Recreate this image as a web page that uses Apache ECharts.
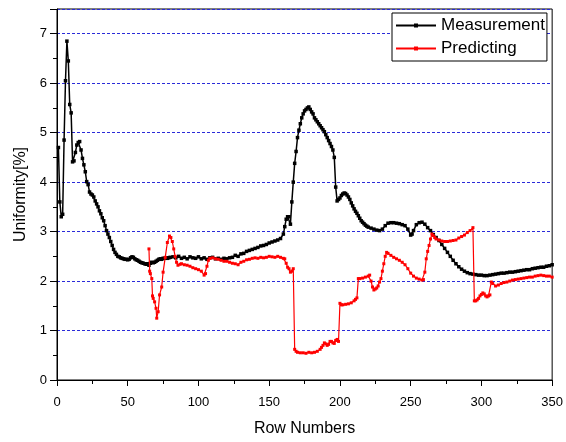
<!DOCTYPE html>
<html>
<head>
<meta charset="utf-8">
<script src="https://cdn.jsdelivr.net/npm/echarts@6/dist/echarts.min.js"></script>
<style>
  html, body { margin: 0; padding: 0; background: #fff; }
  #chart { width: 566px; height: 442px; }
</style>
</head>
<body>
<div id="chart"></div>
<script>
// 数据: [row, uniformity]
var seriesNames = ['Measurement', 'Predicting'];
var xTicks = [0, 50, 100, 150, 200, 250, 300, 350];
var yTicks = [0, 1, 2, 3, 4, 5, 6, 7];

var measurement = [
  [1,4.7],[2,3.6],[3,3.3],[4,3.35],[5,4.85],[6,6.05],[7,6.85],[8,6.45],[9,5.57],[10,5.4],
  [11,4.41],[12,4.43],[13,4.6],[14,4.75],[15,4.8],[16,4.82],[17,4.65],[18,4.48],[19,4.35],[20,4.21],
  [21,4.01],[22,3.95],[23,3.8],[24,3.76],[25,3.74],[26,3.7],[27,3.62],[28,3.56],[29,3.5],[30,3.42],
  [31,3.36],[32,3.28],[33,3.22],[34,3.12],[35,3.02],[36,2.95],[37,2.88],[38,2.8],[39,2.72],[40,2.64],
  [41,2.58],[42,2.54],[43,2.5],[44,2.49],[45,2.47],[46,2.46],[47,2.45],[48,2.44],[49,2.44],[50,2.43],
  [51,2.44],[52,2.47],[53,2.49],[54,2.48],[55,2.45],[56,2.43],[57,2.42],[58,2.4],[59,2.38],[60,2.37],
  [61,2.36],[62,2.35],[63,2.34],[64,2.35],[65,2.32],[66,2.36],[67,2.38],[68,2.37],[69,2.38],[70,2.4],
  [71,2.42],[72,2.44],[73,2.45],[74,2.44],[75,2.46],[76,2.46],[77,2.47],[78,2.46],[79,2.47],[80,2.48],
  [82,2.49],[84,2.47],[86,2.5],[88,2.46],[90,2.48],[92,2.45],[94,2.49],[96,2.47],[98,2.46],[100,2.49],
  [102,2.45],[104,2.47],[106,2.44],[108,2.47],[110,2.48],[112,2.45],[114,2.46],[116,2.44],[118,2.46],[120,2.45],
  [122,2.47],[124,2.48],[126,2.52],[128,2.5],[130,2.55],[132,2.56],[134,2.6],[136,2.62],[138,2.64],[140,2.66],
  [142,2.68],[144,2.71],[146,2.72],[148,2.74],[150,2.77],[152,2.79],[154,2.81],[156,2.83],[158,2.86],[160,2.95],
  [161,3.1],[162,3.25],[163,3.3],[164,3.3],[165,3.15],[166,3.6],[167,4.0],[168,4.38],[169,4.62],[170,4.9],
  [171,5.05],[172,5.18],[173,5.3],[174,5.38],[175,5.44],[176,5.47],[177,5.5],[178,5.52],[179,5.47],[180,5.42],
  [181,5.38],[182,5.3],[183,5.26],[184,5.22],[185,5.18],[186,5.14],[187,5.1],[188,5.06],[189,5.02],[190,4.96],
  [191,4.9],[192,4.84],[193,4.78],[194,4.72],[195,4.65],[196,4.5],[197,3.9],[198,3.62],[199,3.65],[200,3.68],
  [201,3.73],[202,3.76],[203,3.78],[204,3.77],[205,3.74],[206,3.7],[207,3.65],[208,3.58],[209,3.52],[210,3.46],
  [211,3.41],[212,3.37],[213,3.32],[214,3.27],[215,3.22],[216,3.19],[217,3.16],[218,3.13],[219,3.11],[220,3.09],
  [222,3.07],[224,3.05],[226,3.03],[228,3.02],[230,3.05],[232,3.12],[234,3.17],[236,3.18],[238,3.18],[240,3.17],
  [242,3.16],[244,3.14],[246,3.12],[248,3.05],[250,2.93],[251,2.95],[252,3.02],[254,3.14],[256,3.18],[258,3.19],
  [260,3.15],[262,3.08],[264,3.02],[266,2.94],[268,2.88],[270,2.82],[272,2.74],[274,2.66],[276,2.58],[278,2.5],
  [280,2.42],[282,2.35],[284,2.29],[286,2.24],[288,2.2],[290,2.17],[292,2.15],[294,2.14],[296,2.13],[298,2.12],
  [300,2.12],[302,2.11],[304,2.11],[306,2.12],[308,2.13],[310,2.14],[312,2.15],[314,2.16],[316,2.16],[318,2.17],
  [320,2.18],[322,2.18],[324,2.19],[326,2.2],[328,2.21],[330,2.22],[332,2.23],[334,2.23],[336,2.25],[338,2.26],
  [340,2.27],[342,2.28],[344,2.28],[346,2.3],[348,2.31],[350,2.33]
];

var predicting = [
  [65,2.65],[65.5,2.2],[66,2.15],[67,2.05],[67.5,1.7],[68,1.65],[69,1.58],[70,1.45],[70.5,1.25],[71.5,1.38],
  [72.5,1.72],[74,1.88],[75,2.18],[76.5,2.48],[78,2.78],[79.5,2.91],[80.5,2.88],[81.5,2.8],[82.5,2.65],[83.5,2.5],
  [84.5,2.38],[85.5,2.32],[87,2.34],[88,2.35],[90,2.33],[92,2.32],[94,2.3],[96,2.27],[98,2.25],[100,2.23],
  [102,2.2],[104,2.12],[105,2.15],[106,2.3],[107,2.42],[108,2.46],[110,2.47],[112,2.45],[114,2.44],[116,2.42],
  [118,2.4],[120,2.4],[122,2.38],[124,2.36],[126,2.35],[128,2.33],[130,2.38],[132,2.4],[134,2.43],[136,2.44],
  [138,2.46],[140,2.47],[142,2.46],[144,2.48],[146,2.47],[148,2.48],[150,2.5],[152,2.49],[154,2.48],[156,2.5],
  [158,2.48],[160,2.46],[161,2.45],[162,2.36],[163,2.28],[164,2.25],[165,2.18],[166,2.2],[167,2.25],[168,0.62],
  [169,0.58],[170,0.56],[172,0.55],[174,0.55],[176,0.54],[178,0.56],[180,0.55],[182,0.56],[184,0.58],[186,0.62],
  [187,0.66],[188,0.7],[189,0.75],[190,0.73],[191,0.7],[192,0.72],[193,0.78],[194,0.78],[195,0.75],[196,0.74],
  [197,0.8],[198,0.82],[199,0.78],[200,1.55],[201,1.52],[202,1.52],[204,1.53],[206,1.54],[208,1.56],[210,1.6],
  [211,1.63],[212,1.66],[213,2.05],[214,2.05],[216,2.06],[218,2.08],[220,2.1],[221,2.12],[222,2.0],[223,1.88],
  [224,1.82],[225,1.84],[226,1.86],[227,1.9],[228,1.98],[229,2.05],[230,2.2],[231,2.35],[232,2.5],[233,2.58],
  [234,2.56],[236,2.52],[238,2.48],[240,2.45],[242,2.42],[244,2.38],[246,2.33],[248,2.25],[250,2.16],[252,2.1],
  [254,2.06],[256,2.04],[258,2.02],[259,2.03],[260,2.18],[261,2.45],[262,2.6],[263,2.72],[264,2.85],[265,2.95],
  [266,2.92],[267,2.88],[268,2.85],[270,2.83],[272,2.81],[274,2.8],[276,2.8],[278,2.81],[280,2.82],[282,2.83],
  [284,2.87],[286,2.9],[288,2.93],[290,2.98],[292,3.02],[294,3.08],[295,1.6],[296,1.6],[297,1.62],[298,1.65],
  [299,1.7],[300,1.73],[301,1.76],[302,1.74],[303,1.7],[304,1.68],[305,1.7],[306,1.72],[307,1.98],[308,1.95],
  [310,1.9],[312,1.92],[314,1.95],[316,1.97],[318,1.98],[320,2.0],[322,2.02],[324,2.03],[326,2.04],[328,2.05],
  [330,2.06],[332,2.07],[334,2.08],[336,2.08],[338,2.1],[340,2.11],[342,2.12],[344,2.11],[346,2.1],[348,2.1],
  [350,2.08]
];

var chart = echarts.init(document.getElementById('chart'));
var option = {
  animation: false,
  textStyle: { fontFamily: 'Liberation Sans, Arial, sans-serif' },
  grid: {
    show: true,
    left: 57,
    right: 13,
    top: 9,
    bottom: 57,
    borderColor: '#000',
    borderWidth: 1
  },
  legend: {
    orient: 'vertical',
    left: 392,
    top: 13,
    padding: [4, 2, 4, 3],
    itemWidth: 40,
    itemHeight: 5,
    itemGap: 6,
    borderColor: '#000',
    borderWidth: 1,
    backgroundColor: '#fff',
    textStyle: { fontSize: 17, lineHeight: 16, color: '#000' },
    data: seriesNames
  },
  xAxis: {
    type: 'value',
    min: xTicks[0],
    max: xTicks[xTicks.length - 1],
    interval: 50,
    name: 'Row Numbers',
    nameLocation: 'middle',
    nameGap: 41,
    nameTextStyle: { fontSize: 16, color: '#000' },
    axisLine: { lineStyle: { color: '#000', width: 1 } },
    axisTick: { inside: false, length: 6, lineStyle: { color: '#000' } },
    minorTick: { show: true, splitNumber: 2, length: 4, lineStyle: { color: '#000' } },
    axisLabel: { fontSize: 13, color: '#000', margin: 16 },
    splitLine: { show: false }
  },
  yAxis: {
    type: 'value',
    min: yTicks[0],
    max: 7.5,
    interval: 1,
    name: 'Uniformity[%]',
    nameLocation: 'middle',
    nameGap: 22,
    nameTextStyle: { fontSize: 16, color: '#000' },
    axisLine: { show: true, lineStyle: { color: '#000', width: 1 } },
    axisTick: { inside: false, length: 7, lineStyle: { color: '#000' } },
    minorTick: { show: true, splitNumber: 2, length: 4, lineStyle: { color: '#000' } },
    axisLabel: {
      fontSize: 13, color: '#000', margin: 10, showMaxLabel: false,
      formatter: function (v) { return yTicks.indexOf(v) >= 0 ? String(v) : ''; }
    },
    splitLine: {
      show: true,
      lineStyle: { color: '#2b2bd9', type: [3, 2], width: 1 }
    }
  },
  series: [
    {
      name: seriesNames[0],
      type: 'line',
      data: measurement,
      symbol: 'rect',
      symbolSize: 3.5,
      showAllSymbol: true,
      lineStyle: { color: '#000', width: 1.5 },
      itemStyle: { color: '#000' },
      z: 3
    },
    {
      name: seriesNames[1],
      type: 'line',
      data: predicting,
      symbol: 'rect',
      symbolSize: 3,
      showAllSymbol: true,
      lineStyle: { color: '#ff0000', width: 1.2 },
      itemStyle: { color: '#ff0000' },
      z: 4
    }
  ]
};
chart.setOption(option);
</script>
</body>
</html>
